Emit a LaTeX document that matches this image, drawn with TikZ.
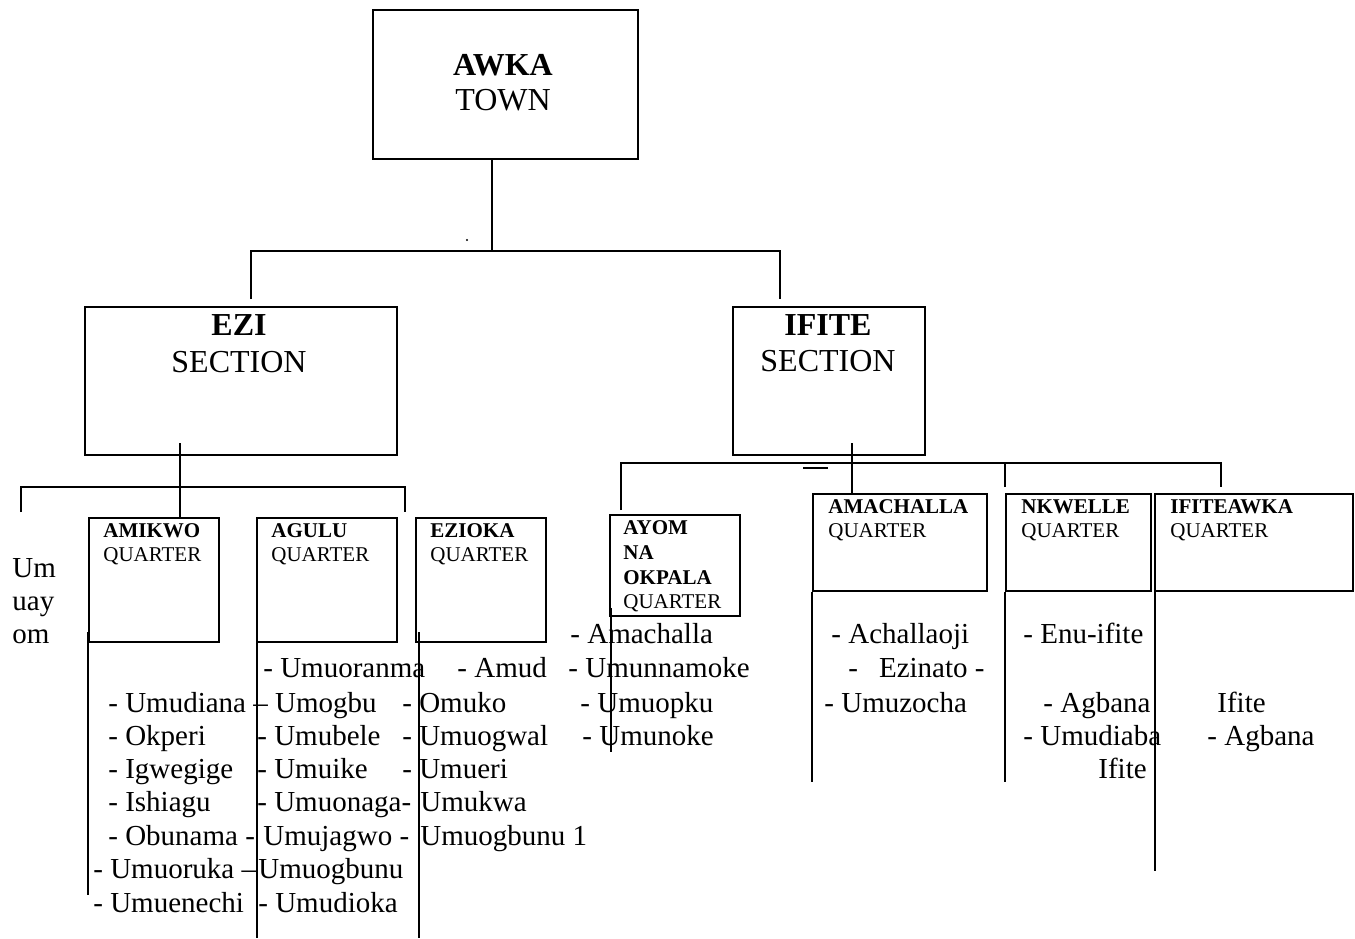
\documentclass[tikz,border=0pt]{standalone}
\usepackage{fontspec}
\setmainfont{Liberation Serif}
\newcommand\qfont{\fontsize{10.5}{12}\selectfont}
\newcommand\headfont{\fontsize{16}{18}\selectfont}
\newcommand\itemfont{\fontsize{14.5}{16.75}\selectfont}

\begin{document}
\begin{tikzpicture}[x=0.5pt, y=-0.5pt,
  box/.style={draw, line width=1pt, inner sep=0pt, anchor=north west},
  link/.style={line width=0.7pt},
  head/.style={anchor=base, inner sep=0pt, font=\headfont},
  qname/.style={anchor=base west, inner sep=0pt, font=\qfont\bfseries},
  qword/.style={anchor=base west, inner sep=0pt, font=\qfont},
  item/.style={anchor=base west, inner sep=0pt, font=\itemfont}]
\useasboundingbox (0,0) rectangle (1355,938);

\node[box, minimum width=132.5pt, minimum height=74.5pt] (awka) at (372,9) {};
\node[head, font=\headfont\bfseries] (awkaname) at (503,75) {AWKA};
\node[head] (awkaword) at (503,110) {TOWN};

\node[box, minimum width=156pt, minimum height=74pt] (ezi) at (84,306) {};
\node[head, font=\headfont\bfseries] (eziname) at (239,335) {EZI};
\node[head] (eziword) at (239,372) {SECTION};

\node[box, minimum width=96pt, minimum height=74pt] (ifite) at (732,306) {};
\node[head, font=\headfont\bfseries] (ifitename) at (828,335) {IFITE};
\node[head] (ifiteword) at (828,371) {SECTION};

\node[box, minimum width=65pt, minimum height=62pt] (amikwo) at (88,517) {};
\node[qname] (amikwoname) at (103,537) {AMIKWO};
\node[qword] (amikwoword) at (103,561) {QUARTER};

\node[box, minimum width=70pt, minimum height=62pt] (agulu) at (256,517) {};
\node[qname] (aguluname) at (271,537) {AGULU};
\node[qword] (aguluword) at (271,561) {QUARTER};

\node[box, minimum width=65pt, minimum height=62pt] (ezioka) at (415,517) {};
\node[qname] (eziokaname) at (430,537) {EZIOKA};
\node[qword] (eziokaword) at (430,561) {QUARTER};

\node[box, minimum width=65pt, minimum height=50.5pt] (ayom) at (609,514) {};
\node[qname] (ayomname1) at (623,534) {AYOM};
\node[qname] (ayomname2) at (623,559) {NA};
\node[qname] (ayomname3) at (623,584) {OKPALA};
\node[qword] (ayomword) at (623,608) {QUARTER};

\node[box, minimum width=87pt, minimum height=48.5pt] (amachalla) at (812,493) {};
\node[qname] (amachallaname) at (828,513) {AMACHALLA};
\node[qword] (amachallaword) at (828,537) {QUARTER};

\node[box, minimum width=72.5pt, minimum height=48.5pt] (nkwelle) at (1005,493) {};
\node[qname] (nkwellename) at (1021,513) {NKWELLE};
\node[qword] (nkwelleword) at (1021,537) {QUARTER};

\node[box, minimum width=99pt, minimum height=48.5pt] (ifiteawka) at (1154,493) {};
\node[qname] (ifiteawkaname) at (1170,513) {IFITEAWKA};
\node[qword] (ifiteawkaword) at (1170,537) {QUARTER};

\coordinate (top) at (492,251);
\coordinate (eziup) at (251,299);
\coordinate (ifiteup) at (780,299);
\draw[link] (awka.south -| top) -- (top);
\draw[link] (eziup) |- (top) -| (ifiteup);
\fill (467,240) circle (0.6pt);

\coordinate (ezistem) at (180,443);
\coordinate (ezij) at (180,487);
\coordinate (umuayup) at (21,512);
\coordinate (eziright) at (405,512);
\draw[link] (ezistem) -- (amikwo.north -| ezistem);
\draw[link] (umuayup) |- (ezij) -| (eziright);

\coordinate (ifitestem) at (852,443);
\coordinate (ifitej) at (852,463);
\coordinate (ayomup) at (621,510);
\coordinate (nkwelleup) at (1005,487);
\coordinate (ifiteawkaup) at (1221,487);
\draw[link] (ifitestem) -- (amachalla.north -| ifitestem);
\draw[link] (ayomup) |- (ifitej) -| (ifiteawkaup);
\draw[link] (nkwelleup) -- (nkwelleup |- ifitej);
\draw[link] (803,468) -- (828,468);

\coordinate (amikwoend) at (88,895);
\coordinate (aguluend) at (257,938);
\coordinate (eziokaend) at (419,938);
\coordinate (ayomend) at (611,752);
\coordinate (amachallaend) at (812,782);
\coordinate (nkwelleend) at (1005,782);
\coordinate (ifiteawkaend) at (1155,871);
\draw[link] (amikwo.south west) ++(0,-11) -- (amikwoend);
\draw[link] (agulu.south west) ++(1,-14) -- (aguluend);
\draw[link] (ezioka.south west) ++(4,-11) -- (eziokaend);
\draw[link] (ayom.south west) ++(2,-9) -- (ayomend);
\draw[link] (amachalla.south west) -- (amachallaend);
\draw[link] (nkwelle.south west) -- (nkwelleend);
\draw[link] (ifiteawka.south west) ++(1,0) -- (ifiteawkaend);

\node[item] (umuay1) at (12,577) {Um};
\node[item] (umuay2) at (12,610) {uay};
\node[item] (umuay3) at (12,643) {om};

\node[item] (am1) at (108,712) {- Umudiana};
\node[item] (am2) at (108,745) {- Okperi};
\node[item] (am3) at (108,778) {- Igwegige};
\node[item] (am4) at (108,811) {- Ishiagu};
\node[item] (am5) at (108,845) {- Obunama -};
\node[item] (am6) at (93,878) {- Umuoruka –};
\node[item] (am7) at (93,912) {- Umuenechi};

\node[item] (ag1) at (263,677) {- Umuoranma};
\node[item] (ag2) at (253,712) {– Umogbu};
\node[item] (ag3) at (257,745) {- Umubele};
\node[item] (ag4) at (257,778) {- Umuike};
\node[item] (ag5) at (257,811) {- Umuonaga-};
\node[item] (ag6) at (263,845) {Umujagwo -};
\node[item] (ag7) at (258,878) {Umuogbunu};
\node[item] (ag8) at (258,912) {- Umudioka};

\node[item] (ez1) at (457,677) {- Amud};
\node[item] (ez2) at (402,712) {- Omuko};
\node[item] (ez3) at (402,745) {- Umuogwal};
\node[item] (ez4) at (402,778) {- Umueri};
\node[item] (ez5) at (420,811) {Umukwa};
\node[item] (ez6) at (420,845) {Umuogbunu 1};

\node[item] (ay1) at (570,643) {- Amachalla};
\node[item] (ay2) at (568,677) {- Umunnamoke};
\node[item] (ay3) at (580,712) {- Umuopku};
\node[item] (ay4) at (582,745) {- Umunoke};

\node[item] (ac1) at (831,643) {- Achallaoji};
\node[item] (ac2) at (848,677) {-\hspace{10.5pt}Ezinato -};
\node[item] (ac3) at (824,712) {- Umuzocha};

\node[item] (nk1) at (1023,643) {- Enu-ifite};
\node[item] (nk2) at (1043,712) {- Agbana};
\node[item] (nk3) at (1023,745) {- Umudiaba};
\node[item] (nk4) at (1098,778) {Ifite};

\node[item] (ia1) at (1217,712) {Ifite};
\node[item] (ia2) at (1207,745) {- Agbana};
\end{tikzpicture}
\end{document}
